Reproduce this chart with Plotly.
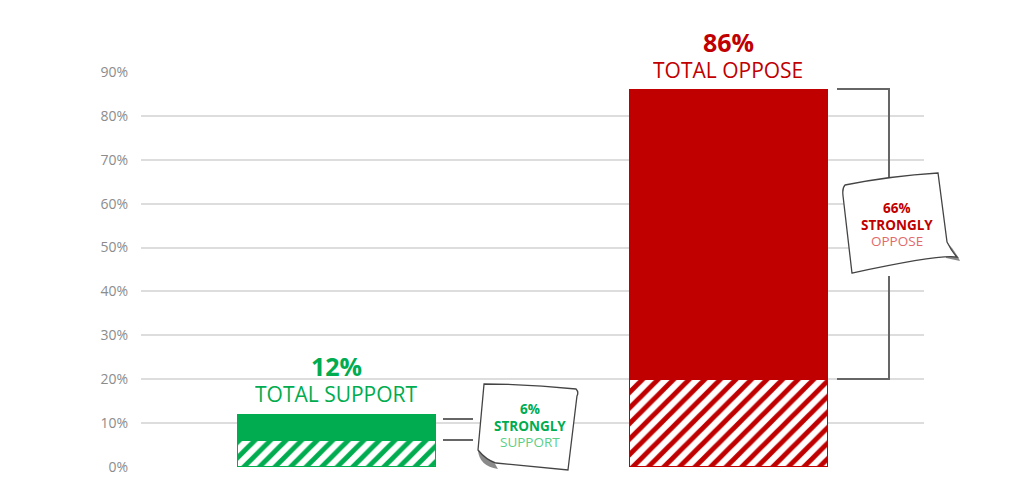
import plotly.graph_objects as go

# ---- data ----
categories = ["Support", "Oppose"]
strongly = [6, 66]          # solid part
somewhat = [6, 20]          # hatched part
totals = [12, 86]
total_labels = ["TOTAL SUPPORT", "TOTAL OPPOSE"]
note_words = ["SUPPORT", "OPPOSE"]
tick_vals = [0, 10, 20, 30, 40, 50, 60, 70, 80, 90]
tick_text = [f"{v}%" for v in tick_vals]

GREEN = "#00AC4F"
RED = "#C00000"
LIGHT = ["#5ACF86", "#E26A6A"]
colors = [GREEN, RED]
FONT = "Open Sans"

W, H = 1024, 497
L, R, T, B = 141, 100, 72, 30
PW, PH = W - L - R, H - T - B


def px(x, y):
    return (x - L) / PW, (H - B - y) / PH


def path(cmds):
    out = []
    for c in cmds:
        if isinstance(c, str):
            out.append(c)
        else:
            a, b = px(*c)
            out.append(f"{a:.4f},{b:.4f}")
    return " ".join(out)


fig = go.Figure()
fig.add_trace(go.Bar(
    x=categories, y=somewhat, width=0.506,
    marker=dict(color="white", line=dict(color=colors, width=1.2),
                pattern=dict(shape="/", fgcolor=colors, bgcolor="white", fgopacity=1,
                             size=11, solidity=0.45, fillmode="overlay")),
    hoverinfo="skip", showlegend=False))
fig.add_trace(go.Bar(
    x=categories, y=strongly, width=0.506,
    marker=dict(color=colors, line=dict(color=colors, width=1)),
    hoverinfo="skip", showlegend=False))

shapes = []
# white gaps in gridlines behind total labels
shapes.append(dict(type="rect", xref="paper", yref="paper", layer="between",
                   x0=px(236, 0)[0], x1=px(437, 0)[0], y0=px(0, 405)[1], y1=px(0, 352)[1],
                   fillcolor="white", line=dict(width=0)))
shapes.append(dict(type="rect", xref="paper", yref="paper", layer="between",
                   x0=px(633, 0)[0], x1=px(820, 0)[0], y0=px(0, 84)[1], y1=px(0, 60)[1],
                   fillcolor="white", line=dict(width=0)))

LC = "#666666"
# support connector lines
for yy in (419, 440):
    shapes.append(dict(type="path", xref="paper", yref="paper",
                       path=path(["M", (443, yy), "L", (473, yy)]),
                       line=dict(color=LC, width=2)))
# oppose bracket
shapes.append(dict(type="path", xref="paper", yref="paper",
                   path=path(["M", (837, 89), "L", (889, 89), "L", (889, 178)]),
                   line=dict(color=LC, width=2)))
shapes.append(dict(type="path", xref="paper", yref="paper",
                   path=path(["M", (889, 276), "L", (889, 379), "L", (837, 379)]),
                   line=dict(color=LC, width=2)))

# notes: shadows
shapes.append(dict(type="path", xref="paper", yref="paper",
                   path=path(["M", (478, 450), "Q", (479, 466), (498, 469), "L", (494, 462), "Z"]),
                   fillcolor="#8a8a8a", line=dict(width=0)))
shapes.append(dict(type="path", xref="paper", yref="paper",
                   path=path(["M", (947, 242), "Q", (956, 252), (960, 261), "L", (946, 258), "Z"]),
                   fillcolor="#8a8a8a", line=dict(width=0)))
# notes: paper
shapes.append(dict(type="path", xref="paper", yref="paper",
                   path=path(["M", (484, 384), "Q", (530, 384), (576, 389),
                              "Q", (579, 392), (577, 396),
                              "L", (568, 470), "L", (496, 463),
                              "Q", (486, 460), (478, 450),
                              "L", (484, 384), "Z"]),
                   fillcolor="white", line=dict(color="#444444", width=1.3)))
shapes.append(dict(type="path", xref="paper", yref="paper",
                   path=path(["M", (845, 185), "Q", (890, 176), (938, 173),
                              "L", (947, 242),
                              "Q", (952, 252), (957, 257),
                              "Q", (940, 254), (852, 273),
                              "L", (843, 196),
                              "Q", (842, 188), (845, 185), "Z"]),
                   fillcolor="white", line=dict(color="#444444", width=1.3)))

annotations = []
for i, c in enumerate(categories):
    annotations.append(dict(x=c, y=totals[i], xref="x", yref="y", text=f"<b>{totals[i]}%</b>",
                            showarrow=False, yshift=48, xanchor="center", yanchor="middle",
                            height=24, borderpad=0,
                            font=dict(family=FONT, size=25, color=colors[i])))
    annotations.append(dict(x=c, y=totals[i], xref="x", yref="y", text=total_labels[i],
                            showarrow=False, yshift=20, xanchor="center", yanchor="middle",
                            height=22, borderpad=0,
                            font=dict(family=FONT, size=21, color=colors[i])))

note_pos = [(530, 408, 425, 441), (897, 208, 224, 241)]
for i in range(2):
    nx, y1, y2, y3 = note_pos[i]
    for yy, txt, col in ((y1, f"<b>{strongly[i]}%</b>", colors[i]),
                         (y2, "<b>STRONGLY</b>", colors[i]),
                         (y3, note_words[i], LIGHT[i])):
        a, b = px(nx, yy)
        annotations.append(dict(x=a, y=b, xref="paper", yref="paper", text=txt, showarrow=False,
                                xanchor="center", yanchor="middle", height=15, borderpad=0,
                                font=dict(family=FONT, size=13.5, color=col)))

fig.update_layout(
    width=W, height=H, barmode="stack", bargap=0.5,
    margin=dict(l=L, r=R, t=T, b=B),
    plot_bgcolor="white", paper_bgcolor="white",
    shapes=shapes, annotations=annotations,
    xaxis=dict(range=[-0.5, 1.5], showticklabels=False, showgrid=False, zeroline=False,
               showline=False, fixedrange=True),
    yaxis=dict(range=[0, 90], tickmode="array", tickvals=tick_vals, ticktext=tick_text,
               showgrid=True, gridcolor="#dddddd", gridwidth=1.6, zeroline=False, showline=False,
               ticklabelstandoff=12, fixedrange=True,
               tickfont=dict(family=FONT, size=14, color="#8c8c8c")),
)

fig.write_html("out.html", config={"displayModeBar": False},
               post_script="document.body.style.margin='0';")
